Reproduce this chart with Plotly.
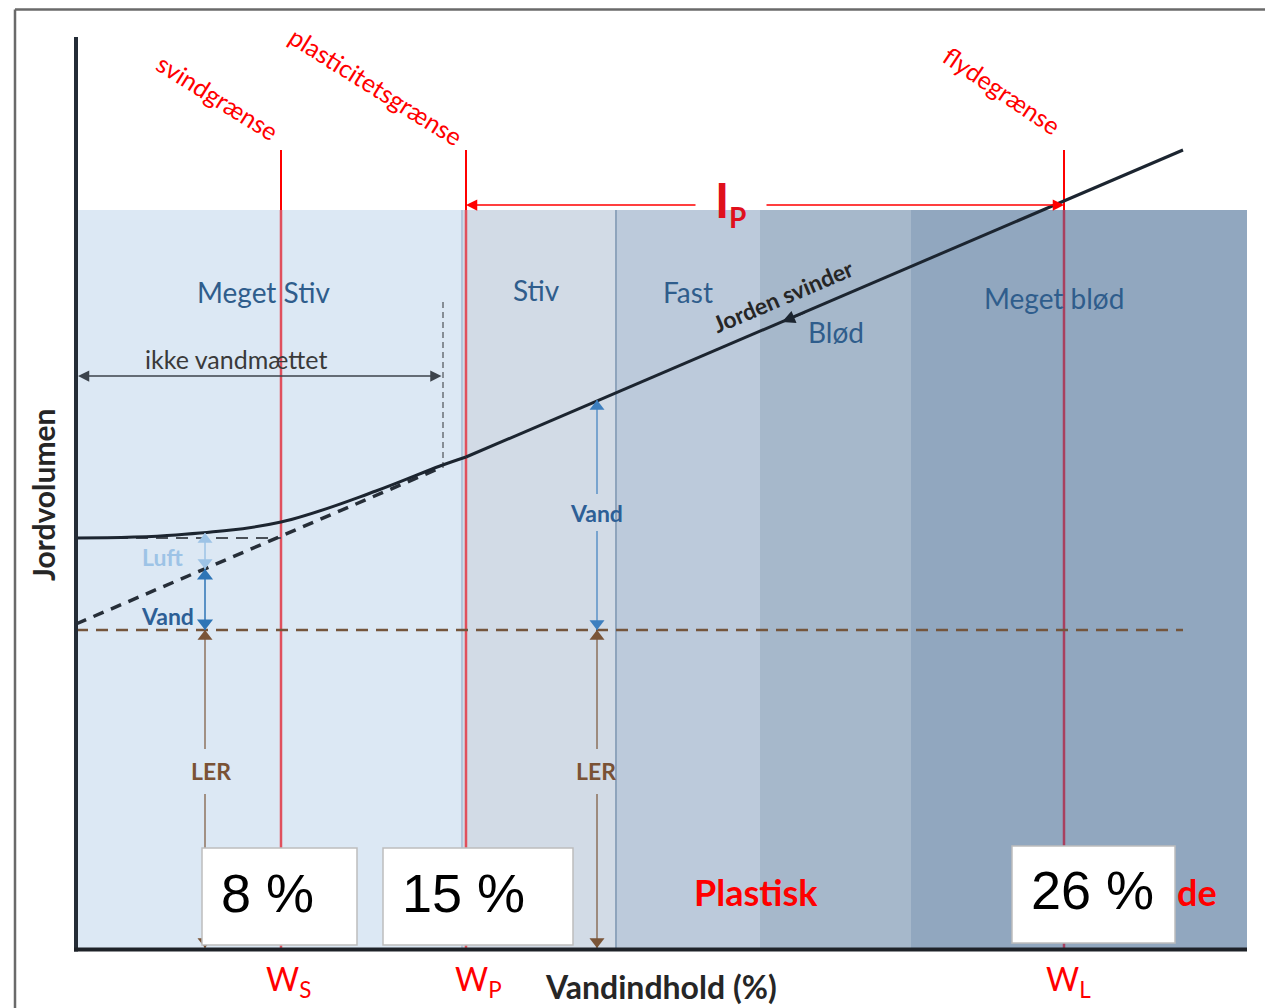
import plotly.graph_objects as go

# ---------------- data (schematic diagram units: water content -> x, soil volume -> y) ----------------
zone_names = ["Meget Stiv", "Stiv", "Fast", "Blød", "Meget blød"]
zone_edges = [0.0, 38.6, 54.0, 68.4, 83.5, 117.1]
zone_top = 73.8
zone_label_x = [18.7, 46.0, 61.2, 76.0, 97.8]
zone_label_y = [65.6, 65.8, 65.6, 61.6, 65.0]

limit_names = ["svindgrænse", "plasticitetsgrænse", "flydegrænse"]
limit_subs = ["S", "P", "L"]
limit_x = [20.5, 39.0, 98.8]
limit_top = 79.8
limit_name_x = [14.2, 30.0, 92.6]
limit_name_y = [85.1, 86.2, 85.8]
limit_name_angle = [32, 32, 34]
limit_symbol_x = [21.2, 40.2, 99.2]
limit_symbol_y = -3.3
limit_values = ["8 %", "15 %", "26 %"]
box_x0 = [12.6, 30.7, 93.6]
box_x1 = [28.1, 49.7, 109.9]
box_y0 = [0.3, 0.3, 0.5]
box_y1 = [10.0, 10.0, 10.2]
box_text_x = [19.1, 38.7, 101.6]
box_text_y = [5.5, 5.5, 5.8]

# soil volume curve
curve_w = [0.0, 10.0, 20.5, 30.0, 36.4, 39.0]
curve_v = [41.0, 41.3, 42.6, 45.7, 48.2, 49.1]
line_w = [39.0, 110.7]
line_v = [49.1, 79.8]
sat_w = [0.0, 36.4]
sat_v = [32.4, 48.0]
shrink_w = [0.0, 20.5]
shrink_v = [41.0, 41.0]
clay_w = [0.0, 110.7]
clay_v = 31.8

# arrows
left_arrow_w = 12.9
right_arrow_w = 52.1
luft_range = [37.9, 41.5]
vand_left_range = [31.8, 37.9]
ler_range = [0.0, 31.8]
vand_right_range = [31.8, 54.8]
ler_gap = [15.4, 19.9]
vand_right_gap = [41.7, 45.4]
unsat_v = 57.2
unsat_w = [0.2, 36.7]
unsat_dash_v = [48.0, 64.8]
ip_v = 74.3
ip_gap = [62.1, 68.9]
shrink_arrow_tip = [70.6, 62.6]
shrink_arrow_tail = [73.0, 63.6]

# text labels
luft_label = [8.6, 39.1]
vand_left_label = [9.1, 33.2]
ler_left_label = [13.5, 17.7]
vand_right_label = [52.0, 43.5]
ler_right_label = [52.0, 17.7]
unsat_label = [16.0, 58.9]
ip_label_i = [64.6, 74.9]
ip_label_p = [66.1, 73.1]
svinder_label = [70.7, 65.2]
plastisk_label = [68.0, 5.6]
flyde_label = [112.1, 5.6]
x_title = [58.5, -3.8]
y_title = [-3.3, 45.3]
frame_x = -6.1
frame_y = 93.85
axis_top = 91.1

# ---------------- styles ----------------
zone_colors = ["#dce8f4", "#d2dbe6", "#bccadb", "#a6b8cb", "#91a7bf"]
limit_line_colors = ["#e0505d", "#e0505d", "#a8405f"]
zone_text_color = "#2f5d8c"
RED = "#ff0000"
BASE_FONT = "Lato"
PX = 10.0  # pixels per diagram unit

fig = go.Figure()
shapes = []
ann = []

# bands
for i in range(len(zone_names)):
    shapes.append(dict(type="rect", xref="x", yref="y", layer="below",
                       x0=zone_edges[i], x1=zone_edges[i + 1], y0=0, y1=zone_top,
                       fillcolor=zone_colors[i], line=dict(width=0)))
# thin dividers
shapes.append(dict(type="line", xref="x", yref="y", layer="below",
                   x0=zone_edges[1], x1=zone_edges[1], y0=0, y1=zone_top,
                   line=dict(color="#b3c7dd", width=2)))
shapes.append(dict(type="line", xref="x", yref="y", layer="below",
                   x0=zone_edges[2], x1=zone_edges[2], y0=0, y1=zone_top,
                   line=dict(color="#8ea4bc", width=2)))
# red limit lines
for i, xv in enumerate(limit_x):
    shapes.append(dict(type="line", xref="x", yref="y", layer="below",
                       x0=xv, x1=xv, y0=0, y1=zone_top,
                       line=dict(color=limit_line_colors[i], width=2.5)))
    shapes.append(dict(type="line", xref="x", yref="y", layer="below",
                       x0=xv, x1=xv, y0=zone_top, y1=limit_top,
                       line=dict(color=RED, width=2)))
# vertical dashed (saturation boundary)
shapes.append(dict(type="line", xref="x", yref="y", layer="below",
                   x0=unsat_w[1], x1=unsat_w[1], y0=unsat_dash_v[0], y1=unsat_dash_v[1],
                   line=dict(color="#6a6f75", width=1.5, dash="6px,4px")))
# outer frame
shapes.append(dict(type="line", xref="x", yref="y", layer="above",
                   x0=frame_x, x1=frame_x, y0=-10, y1=frame_y,
                   line=dict(color="#6a6a6a", width=2.5)))
shapes.append(dict(type="line", xref="x", yref="y", layer="above",
                   x0=frame_x, x1=130, y0=frame_y, y1=frame_y,
                   line=dict(color="#6a6a6a", width=2.5)))
# axes
shapes.append(dict(type="line", xref="x", yref="y", layer="above",
                   x0=0, x1=0, y0=-0.35, y1=axis_top,
                   line=dict(color="#242c36", width=4)))
shapes.append(dict(type="line", xref="x", yref="y", layer="above",
                   x0=-0.2, x1=zone_edges[-1], y0=-0.15, y1=-0.15,
                   line=dict(color="#1e2228", width=4)))
# value boxes
for i in range(3):
    shapes.append(dict(type="rect", xref="x", yref="y", layer="above",
                       x0=box_x0[i], x1=box_x1[i], y0=box_y0[i], y1=box_y1[i],
                       fillcolor="white", line=dict(color="#bdbdbd", width=1.5)))

# curves
fig.add_trace(go.Scatter(x=clay_w, y=[clay_v, clay_v], mode="lines",
                         line=dict(color="#74553c", width=2.5, dash="12px,8px"), hoverinfo="skip"))
fig.add_trace(go.Scatter(x=shrink_w, y=shrink_v, mode="lines",
                         line=dict(color="#4a5058", width=2, dash="12px,8px"), hoverinfo="skip"))
fig.add_trace(go.Scatter(x=sat_w, y=sat_v, mode="lines",
                         line=dict(color="#262e38", width=3.5, dash="11px,8px"), hoverinfo="skip"))
fig.add_trace(go.Scatter(x=curve_w, y=curve_v, mode="lines", line_shape="spline",
                         line=dict(color="#1c2530", width=3), hoverinfo="skip"))
fig.add_trace(go.Scatter(x=line_w, y=line_v, mode="lines",
                         line=dict(color="#1c2530", width=3), hoverinfo="skip"))


def v_arrow(x, rng, color, width, msize, gap=None):
    lo, hi = rng
    r = msize / 2.0 / PX
    if gap:
        xs = [x, x, None, x, x]
        ys = [lo, gap[0], None, gap[1], hi]
    else:
        xs = [x, x]
        ys = [lo, hi]
    fig.add_trace(go.Scatter(x=xs, y=ys, mode="lines", line=dict(color=color, width=width),
                             hoverinfo="skip"))
    fig.add_trace(go.Scatter(x=[x, x], y=[lo + r, hi - r], mode="markers",
                             marker=dict(symbol=["triangle-down", "triangle-up"], size=msize,
                                         color=color, line=dict(width=0)),
                             hoverinfo="skip"))


v_arrow(left_arrow_w, luft_range, "#9dc3e6", 1.5, 13)
v_arrow(left_arrow_w, vand_left_range, "#2e75b6", 1.5, 14)
v_arrow(left_arrow_w, ler_range, "#7a5538", 1.2, 13, ler_gap)
v_arrow(right_arrow_w, vand_right_range, "#3d7fbf", 1.2, 13, vand_right_gap)
v_arrow(right_arrow_w, ler_range, "#7a5538", 1.2, 13, ler_gap)


def text(pos, s, size, color, bold=False, angle=0, family=BASE_FONT, xanchor="center"):
    ann.append(dict(x=pos[0], y=pos[1], xref="x", yref="y", text=("<b>%s</b>" % s) if bold else s,
                    showarrow=False, textangle=angle, xanchor=xanchor, yanchor="middle",
                    font=dict(family=family, size=size, color=color)))


# horizontal arrows
ann.append(dict(x=unsat_w[0], y=unsat_v, ax=unsat_w[1], ay=unsat_v, xref="x", yref="y",
                axref="x", ayref="y", text="", showarrow=True, arrowhead=2, arrowside="end+start",
                arrowsize=1.5, arrowwidth=1.5, arrowcolor="#3c434b"))
ann.append(dict(x=limit_x[1], y=ip_v, ax=ip_gap[0], ay=ip_v, xref="x", yref="y",
                axref="x", ayref="y", text="", showarrow=True, arrowhead=2,
                arrowsize=1.5, arrowwidth=1.5, arrowcolor=RED))
ann.append(dict(x=limit_x[2], y=ip_v, ax=ip_gap[1], ay=ip_v, xref="x", yref="y",
                axref="x", ayref="y", text="", showarrow=True, arrowhead=2,
                arrowsize=1.5, arrowwidth=1.5, arrowcolor=RED))
ann.append(dict(x=shrink_arrow_tip[0], y=shrink_arrow_tip[1], ax=shrink_arrow_tail[0],
                ay=shrink_arrow_tail[1], xref="x", yref="y", axref="x", ayref="y", text="",
                showarrow=True, arrowhead=2, arrowsize=1.3, arrowwidth=2, arrowcolor="#1c2530"))

# zone labels
for name, xv, yv in zip(zone_names, zone_label_x, zone_label_y):
    text((xv, yv), name, 28, zone_text_color)

# limit names and symbols
for i in range(3):
    text((limit_name_x[i], limit_name_y[i]), limit_names[i], 25, RED, angle=limit_name_angle[i])
    text((limit_symbol_x[i], limit_symbol_y), "W<sub>%s</sub>" % limit_subs[i], 32, RED)
    text((box_text_x[i], box_text_y[i]), limit_values[i], 54, "black", family="Liberation Sans, Arial")

text(luft_label, "Luft", 23, "#9dc3e6", bold=True)
text(vand_left_label, "Vand", 23, "#2d5f96", bold=True)
text(ler_left_label, "LER", 23, "#7a5235", bold=True)
text(vand_right_label, "Vand", 23, "#2d5f96", bold=True)
text(ler_right_label, "LER", 23, "#7a5235", bold=True)
text(unsat_label, "ikke vandmættet", 25, "#3a3a3a")
text(ip_label_i, "I", 48, "#e0101c", bold=True)
text(ip_label_p, "P", 28, "#e0101c", bold=True)
text(svinder_label, "Jorden svinder", 23, "#262626", bold=True, angle=-23)
text(plastisk_label, "Plastisk", 36, RED, bold=True)
text(flyde_label, "de", 36, RED, bold=True)
text(x_title, "Vandindhold (%)", 32, "#262626", bold=True)
text(y_title, "Jordvolumen", 30, "#262626", bold=True, angle=-90)

# page body has an 8px margin: figure is placed at (8, 8) in the window
fig.update_layout(
    width=1265, height=1000,
    margin=dict(l=0, r=0, t=0, b=0),
    paper_bgcolor="white", plot_bgcolor="white",
    showlegend=False,
    shapes=shapes, annotations=ann,
    xaxis=dict(range=[-6.8, 119.7], visible=False, fixedrange=True),
    yaxis=dict(range=[-6.0, 94.0], visible=False, fixedrange=True),
)

fig.write_html("out.html")
